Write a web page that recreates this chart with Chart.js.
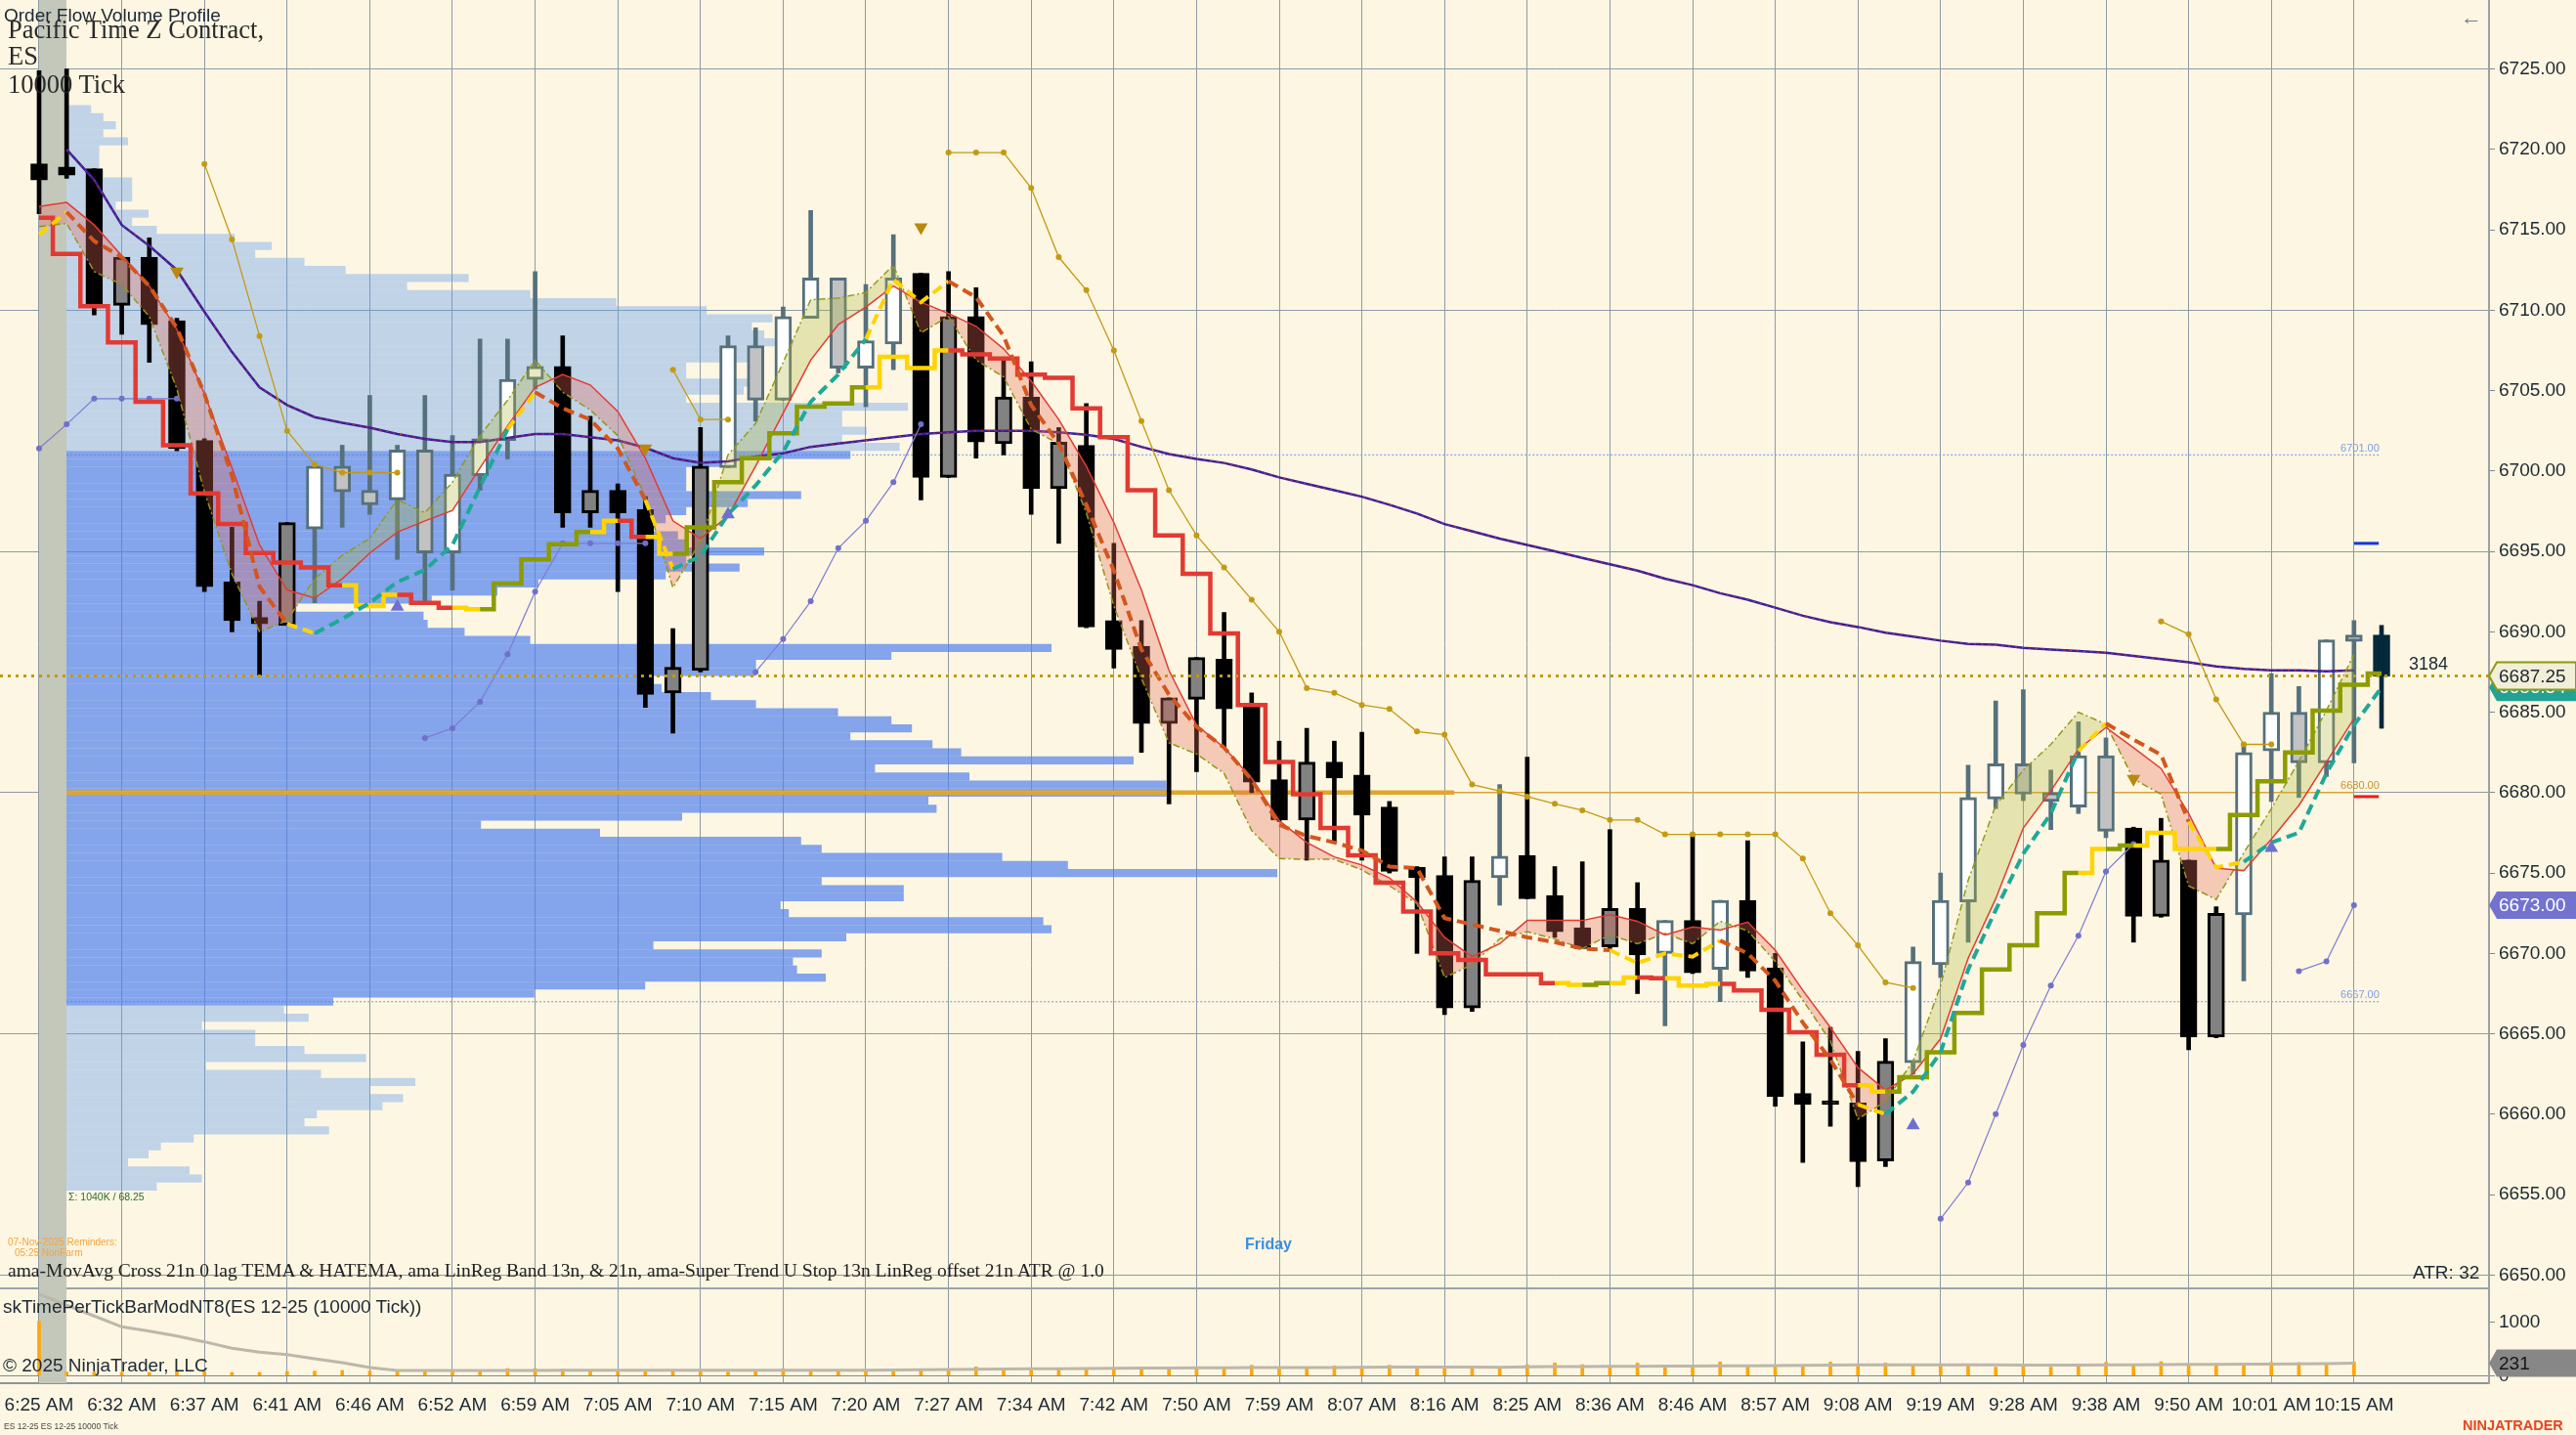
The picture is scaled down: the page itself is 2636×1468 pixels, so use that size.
<!DOCTYPE html>
<html>
<head>
<meta charset="utf-8">
<title>ES 12-25 10000 Tick</title>
<script src="https://cdn.jsdelivr.net/npm/chart.js@4.4.1/dist/chart.umd.min.js"></script>
<style>
  html, body { margin: 0; padding: 0; background: #fdf6e2; }
  body { width: 2636px; height: 1468px; position: relative; overflow: hidden;
         font-family: "Liberation Sans", Arial, sans-serif; color: #1c2833; }
  canvas { position: absolute; left: 0; }
  #main { top: 0; }
  #lower { top: 1318px; }
  .t { position: absolute; white-space: nowrap; line-height: 1; }
  .serif { font-family: "Liberation Serif", "Times New Roman", serif; color: #2b2b2b; }
</style>
</head>
<body>
<canvas id="main" width="2636" height="1320"></canvas>
<canvas id="lower" width="2636" height="150"></canvas>

<div class="t" style="left:4px;top:6px;font-size:19px">Order Flow Volume Profile</div>
<div class="t serif" style="left:8px;top:17px;font-size:26.5px">Pacific Time Z Contract,</div>
<div class="t serif" style="left:8px;top:44px;font-size:26.5px">ES</div>
<div class="t serif" style="left:8px;top:73px;font-size:26.5px">10000 Tick</div>
<div class="t" style="left:2518px;top:7px;font-size:22px;color:#6c7c88">&larr;</div>
<div class="t" style="left:70px;top:1219px;font-size:10.5px;color:#2e6b2e">&Sigma;: 1040K / 68.25</div>
<div class="t" style="left:8px;top:1266px;font-size:10px;color:#f5a43a">07-Nov-2025 Reminders:</div>
<div class="t" style="left:15px;top:1277px;font-size:10px;color:#f5a43a">05:25 NonFarm</div>
<div class="t" style="left:1274px;top:1265px;font-size:16px;font-weight:bold;color:#3a8ee0">Friday</div>
<div class="t serif" style="left:8px;top:1290px;font-size:19.5px;color:#222">ama-MovAvg Cross 21n 0 lag TEMA &amp; HATEMA, ama LinReg Band 13n, &amp; 21n, ama-Super Trend U Stop 13n LinReg offset 21n ATR @ 1.0</div>
<div class="t" style="left:2469px;top:1292px;font-size:19px">ATR: 32</div>
<div class="t" style="left:3px;top:1327px;font-size:19px">skTimePerTickBarModNT8(ES 12-25 (10000 Tick))</div>
<div class="t" style="left:3px;top:1387px;font-size:19px">&copy; 2025 NinjaTrader, LLC</div>
<div class="t" style="left:4px;top:1455px;font-size:8.5px;color:#444">ES 12-25 ES 12-25 10000 Tick</div>
<div class="t" style="left:2520px;top:1451px;font-size:14.5px;font-weight:bold;color:#e8451e">NINJATRADER</div>

<script>
// ---- values ----
const timeLabels = ['6:25 AM', '6:32 AM', '6:37 AM', '6:41 AM', '6:46 AM', '6:52 AM', '6:59 AM', '7:05 AM',
  '7:10 AM', '7:15 AM', '7:20 AM', '7:27 AM', '7:34 AM', '7:42 AM', '7:50 AM', '7:59 AM', '8:07 AM',
  '8:16 AM', '8:25 AM', '8:36 AM', '8:46 AM', '8:57 AM', '9:08 AM', '9:19 AM', '9:28 AM', '9:38 AM',
  '9:50 AM', '10:01 AM', '10:15 AM'];
const labelEvery = 3; // one time label every 3 bars

const opens = [6719.1, 6718.9, 6718.8, 6710.3, 6713.3, 6709.35, 6701.9, 6693.1, 6690.9, 6690.4,
  6696.4, 6700.3, 6698.8, 6698.2, 6701.3, 6694.9, 6699.7, 6701.9, 6705.7, 6706.5,
  6697.4, 6698.8, 6697.6, 6686.2, 6687.6, 6700.2, 6707.8, 6704.4, 6709.5, 6712.0,
  6706.4, 6707.9, 6712.3, 6699.6, 6709.6, 6701.7, 6704.6, 6698.9, 6701.6, 6690.7,
  6689.1, 6684.3, 6685.8, 6688.3, 6685.4, 6680.8, 6678.3, 6681.9, 6681.1, 6679.1,
  6675.35, 6674.85, 6666.6, 6674.7, 6676.1, 6673.6, 6671.6, 6670.4, 6672.8, 6670.0,
  6672.05, 6669.0, 6673.3, 6669.1, 6661.3, 6660.8, 6660.7, 6657.1, 6663.2, 6669.3,
  6673.2, 6679.6, 6681.8, 6680.0, 6679.1, 6682.3, 6677.8, 6672.3, 6675.8, 6664.8,
  6672.4, 6682.6, 6685.0, 6681.85, 6689.8, 6689.8];
const highs = [6724.9, 6725.0, 6718.8, 6713.3, 6714.5, 6709.5, 6702.0, 6696.5, 6691.9, 6696.8,
  6700.3, 6701.6, 6704.7, 6701.6, 6704.7, 6702.2, 6708.2, 6708.2, 6712.4, 6708.4,
  6703.4, 6699.2, 6698.4, 6690.2, 6702.7, 6708.4, 6708.9, 6710.2, 6716.2, 6712.0,
  6711.6, 6714.7, 6712.3, 6712.4, 6711.4, 6706.9, 6706.8, 6702.7, 6704.2, 6695.5,
  6690.7, 6685.9, 6688.4, 6691.2, 6686.2, 6683.2, 6684.0, 6683.2, 6683.75, 6679.45,
  6675.4, 6676.0, 6676.0, 6680.5, 6682.2, 6675.4, 6675.7, 6677.7, 6674.4, 6672.05,
  6677.4, 6673.3, 6677.0, 6670.0, 6664.5, 6665.4, 6663.9, 6664.7, 6670.4, 6675.0,
  6681.7, 6685.7, 6686.4, 6681.4, 6684.4, 6683.4, 6677.85, 6678.4, 6675.8, 6672.9,
  6683.1, 6687.4, 6686.6, 6689.5, 6690.7, 6690.4];
const lows = [6716.0, 6718.2, 6709.7, 6708.5, 6706.75, 6701.25, 6692.5, 6690.0, 6687.3, 6690.4,
  6691.8, 6696.5, 6697.3, 6694.5, 6691.9, 6692.6, 6698.8, 6700.75, 6705.1, 6696.5,
  6696.5, 6692.5, 6685.3, 6683.7, 6687.5, 6700.2, 6703.1, 6704.4, 6709.5, 6706.1,
  6704.0, 6706.3, 6698.2, 6699.6, 6700.8, 6701.0, 6697.3, 6695.5, 6690.25, 6687.75,
  6682.5, 6679.3, 6681.3, 6682.8, 6680.0, 6678.2, 6675.8, 6676.9, 6675.8, 6675.0,
  6670.0, 6666.2, 6666.4, 6673.0, 6673.4, 6671.0, 6670.3, 6670.3, 6667.5, 6665.5,
  6668.75, 6667.0, 6668.5, 6660.5, 6657.0, 6659.25, 6655.5, 6656.75, 6662.5, 6668.5,
  6670.7, 6679.0, 6679.5, 6677.7, 6678.7, 6677.2, 6670.7, 6672.25, 6664.0, 6664.75,
  6668.3, 6679.45, 6679.7, 6681.0, 6681.85, 6684.0];
const closes = [6718.1, 6718.4, 6710.3, 6713.3, 6709.1, 6701.4, 6692.8, 6690.7, 6690.5, 6696.8,
  6700.3, 6698.7, 6697.9, 6701.3, 6694.9, 6699.8, 6702.0, 6705.7, 6706.5, 6697.4,
  6698.8, 6697.4, 6686.1, 6687.8, 6700.3, 6707.8, 6704.4, 6709.6, 6712.0, 6706.4,
  6708.1, 6712.0, 6699.6, 6709.6, 6701.8, 6704.6, 6698.9, 6701.8, 6690.3, 6688.9,
  6684.3, 6685.9, 6688.4, 6685.2, 6680.65, 6678.3, 6681.9, 6680.9, 6678.6, 6675.1,
  6674.7, 6666.6, 6674.55, 6676.05, 6673.4, 6671.35, 6670.3, 6672.8, 6669.9, 6672.05,
  6668.8, 6673.3, 6668.9, 6661.1, 6660.6, 6660.6, 6657.05, 6663.3, 6669.5, 6673.3,
  6679.7, 6681.8, 6679.9, 6679.45, 6682.3, 6677.6, 6672.3, 6675.8, 6664.8, 6672.5,
  6682.5, 6685.0, 6681.85, 6689.5, 6689.4, 6687.25];
// bar colouring state (1 = up trend, -1 = down trend)
const trend = [-1, -1, -1, -1, -1, -1, -1, -1, -1, -1,
  1, 1, 1, 1, 1, 1, 1, 1, 1, -1,
  -1, -1, -1, -1, -1, 1, 1, 1, 1, 1,
  1, 1, -1, -1, -1, -1, -1, -1, -1, -1,
  -1, -1, -1, -1, -1, -1, -1, -1, -1, -1,
  -1, -1, -1, 1, -1, -1, -1, -1, -1, 1,
  -1, 1, -1, -1, -1, -1, -1, -1, 1, 1,
  1, 1, 1, 1, 1, 1, -1, -1, -1, -1,
  1, 1, 1, 1, 1, 1];

// ama-MovAvg (slow)
const maLine = [null, 6720.0, 6718.1, 6715.3, 6714.0, 6712.5, 6709.9, 6707.4, 6705.2, 6704.1,
  6703.35, 6703.0, 6702.7, 6702.3, 6702.0, 6701.8, 6701.8, 6702.05, 6702.3, 6702.3,
  6702.1, 6701.9, 6701.45, 6700.8, 6700.5, 6700.6, 6700.9, 6701.1, 6701.5, 6701.7,
  6701.9, 6702.1, 6702.3, 6702.4, 6702.5, 6702.5, 6702.5, 6702.4, 6702.25, 6702.0,
  6701.5, 6701.05, 6700.75, 6700.5, 6700.1, 6699.6, 6699.2, 6698.8, 6698.4, 6697.9,
  6697.35, 6696.7, 6696.25, 6695.8, 6695.4, 6695.0, 6694.6, 6694.2, 6693.8, 6693.3,
  6692.9, 6692.4, 6692.0, 6691.5, 6691.0, 6690.6, 6690.3, 6689.95, 6689.7, 6689.45,
  6689.25, 6689.2, 6689.0, 6688.9, 6688.8, 6688.7, 6688.5, 6688.3, 6688.1, 6687.85,
  6687.7, 6687.6, 6687.6, 6687.55, 6687.6, null];

// Super Trend U stop (step line) and its state: R = short, Y = neutral, G = long
const stopLine = [6715.75, 6713.5, 6710.25, 6708.0, 6704.3, 6701.6, 6698.6, 6696.7, 6694.9, 6694.3,
  6694.0, 6692.9, 6691.6, 6692.3, 6691.8, 6691.5, 6691.4, 6693.0, 6694.5, 6695.45,
  6696.2, 6696.9, 6695.9, 6694.85, 6696.5, 6699.3, 6700.8, 6702.35, 6704.0, 6704.2,
  6705.2, 6707.1, 6706.4, 6707.5, 6707.25, 6707.0, 6706.0, 6705.8, 6703.9, 6702.1,
  6698.8, 6696.0, 6693.6, 6689.9, 6685.45, 6681.9, 6679.9, 6677.8, 6676.1, 6674.4,
  6672.6, 6670.0, 6669.6, 6668.7, 6668.7, 6668.15, 6668.05, 6668.15, 6668.5, 6668.45,
  6668.0, 6668.1, 6667.7, 6666.5, 6665.1, 6663.7, 6661.8, 6661.4, 6662.3, 6663.85,
  6666.3, 6669.0, 6670.5, 6672.5, 6675.0, 6676.5, 6676.7, 6677.5, 6676.5, 6676.5,
  6678.6, 6680.7, 6682.5, 6685.1, 6686.7, 6687.4];
const stopState = ['RRRRRRRRRR', 'RRYYRRYGGG', 'GYRYGGGGGG', 'GYYYRRRRRR', 'RRRRRRRRRR',
  'RRRRRRYGYR', 'YYRRRRRYGG', 'GGGGGYGYYY', 'GGGGGG'].join('').split('');

// TEMA cross line (dashed) and colour of the segment ending at each bar: O = falling, T = rising, Y = flat
const temaLine = [6714.7, 6716.1, 6714.3, 6713.3, 6711.5, 6708.9, 6704.8, 6699.7, 6692.8, 6690.5,
  6689.9, 6690.8, 6691.8, 6693.1, 6693.85, 6695.4, 6699.0, 6702.6, 6704.9, 6703.9,
  6703.2, 6701.4, 6698.2, 6693.9, 6694.7, 6697.3, 6699.1, 6701.2, 6704.3, 6706.0,
  6708.2, 6711.9, 6710.5, 6711.8, 6710.8, 6708.4, 6704.1, 6701.7, 6697.9, 6693.8,
  6688.9, 6686.1, 6684.1, 6682.8, 6680.8, 6678.0, 6677.3, 6676.9, 6676.4, 6675.4,
  6675.3, 6672.2, 6671.8, 6671.4, 6671.0, 6670.7, 6670.3, 6670.2, 6669.4, 6670.0,
  6669.8, 6670.8, 6670.0, 6668.3, 6665.7, 6663.4, 6660.6, 6660.0, 6661.4, 6663.85,
  6669.0, 6672.7, 6676.2, 6678.7, 6682.6, 6684.3, 6683.3, 6682.35, 6678.2, 6675.35,
  6675.7, 6676.9, 6677.5, 6681.2, 6684.2, 6686.54];
const temaState = ['-YOOOOOOOO', 'YTTTTTTTYO', 'OOOYTTTTTT', 'TYYYOOOOOO', 'OOOOOOOOOO',
  'OOOOOOOOYY', 'YYOOOOOYTT', 'TTTTTYOOOY', 'YTTTTT'].join('').split('');

// LinReg band 13n (red) and 21n (olive)
const linReg13 = [6716.45, 6716.7, 6715.3, 6713.4, 6711.5, 6708.8, 6704.8, 6700.2, 6695.4, 6692.6,
  6692.1, 6693.3, 6694.9, 6696.2, 6696.9, 6697.55, 6700.2, 6702.8, 6705.2, 6706.0,
  6705.35, 6703.7, 6700.8, 6696.9, 6695.8, 6697.2, 6700.3, 6703.6, 6706.9, 6709.1,
  6710.2, 6711.5, 6710.5, 6709.8, 6709.0, 6707.6, 6705.6, 6703.2, 6700.3, 6696.8,
  6692.6, 6687.6, 6684.2, 6682.8, 6680.9, 6678.25, 6676.9, 6676.0, 6675.5, 6674.7,
  6673.2, 6671.0, 6669.8, 6670.6, 6672.05, 6672.05, 6672.05, 6672.4, 6672.0, 6671.15,
  6671.65, 6671.45, 6671.95, 6670.2, 6667.7, 6665.4, 6662.9, 6661.5, 6662.5, 6664.7,
  6669.7, 6673.4, 6677.8, 6680.1, 6682.7, 6684.05, 6682.8, 6681.5, 6678.7, 6675.3,
  6675.15, 6677.1, 6679.2, 6681.9, 6684.6, null];
const linReg21 = [6715.2, 6715.4, 6712.4, 6711.6, 6709.6, 6705.1, 6698.7, 6693.6, 6690.0, 6690.7,
  6693.3, 6694.75, 6695.8, 6698.2, 6697.4, 6699.3, 6702.2, 6704.4, 6706.9, 6704.9,
  6703.8, 6702.2, 6698.4, 6692.75, 6695.6, 6701.0, 6702.95, 6706.75, 6710.65, 6710.75,
  6711.1, 6712.8, 6708.6, 6709.6, 6706.9, 6705.85, 6702.6, 6701.7, 6697.4, 6691.6,
  6687.1, 6683.1, 6682.4, 6681.2, 6677.65, 6675.9, 6675.85, 6675.85, 6675.2, 6674.2,
  6673.1, 6668.5, 6669.3, 6670.9, 6671.35, 6670.9, 6670.3, 6671.15, 6670.6, 6671.25,
  6670.6, 6672.0, 6671.4, 6669.5, 6667.1, 6664.55, 6659.7, 6660.8, 6663.3, 6668.0,
  6674.55, 6679.2, 6681.4, 6683.0, 6685.0, 6684.25, 6680.85, 6679.9, 6674.2, 6673.35,
  6676.25, 6679.0, 6681.95, 6685.1, 6688.6, null];

// trailing stops with dots (gold = short side, blue = long side)
const goldStop = [null, null, null, null, null, null, 6719.1, 6714.4, 6708.4, 6702.5,
  6700.4, 6699.9, 6699.9, 6699.9, null, null, null, null, null, null,
  null, null, null, 6706.3, 6703.2, 6703.2, null, null, null, null,
  null, null, null, 6719.8, 6719.8, 6719.8, 6717.6, 6713.3, 6711.25, 6707.5,
  6703.1, 6698.8, 6696.0, 6694.0, 6692.0, 6690.0, 6686.5, 6686.2, 6685.45, 6685.2,
  6683.8, 6683.6, 6680.5, 6680.1, 6679.75, 6679.3, 6678.9, 6678.3, 6678.3, 6677.4,
  6677.4, 6677.4, 6677.4, 6677.4, 6675.9, 6672.5, 6670.5, 6668.2, 6667.85, null,
  null, null, null, null, null, null, null, 6690.65, 6689.85, 6685.8,
  6683.0, 6683.0, null, null, null, null];
const blueStop = [6701.4, 6702.9, 6704.5, 6704.5, 6704.5, 6704.5, null, null, null, null,
  null, null, null, null, 6683.4, 6684.0, 6685.65, 6688.6, 6692.5, 6695.5,
  6695.5, 6695.5, 6695.5, null, null, null, 6687.5, 6689.55, 6691.9, 6695.2,
  6696.9, 6699.3, 6702.9, null, null, null, null, null, null, null,
  null, null, null, null, null, null, null, null, null, null,
  null, null, null, null, null, null, null, null, null, null,
  null, null, null, null, null, null, null, null, null, 6653.5,
  6655.75, 6660.0, 6664.3, 6668.0, 6671.1, 6675.1, 6676.8, null, null, null,
  null, null, 6668.9, 6669.5, 6673.0, null];

// signal triangles
const sellBars = [5, 22, 32, 76];
const sellPrices = [6712.4, 6701.4, 6715.15, 6680.85];
const buyBars = [13, 25, 68, 81];
const buyPrices = [6691.55, 6697.3, 6659.3, 6676.55];

// order flow volume profile (K contracts per half point)
const profilePrices = [
  6722.5, 6722.0, 6721.5, 6721.0, 6720.5, 6720.0, 6719.5, 6719.0, 6718.5, 6718.0,
  6717.5, 6717.0, 6716.5, 6716.0, 6715.5, 6715.0, 6714.5, 6714.0, 6713.5, 6713.0,
  6712.5, 6712.0, 6711.5, 6711.0, 6710.5, 6710.0, 6709.5, 6709.0, 6708.5, 6708.0,
  6707.5, 6707.0, 6706.5, 6706.0, 6705.5, 6705.0, 6704.5, 6704.0, 6703.5, 6703.0,
  6702.5, 6702.0, 6701.5, 6701.0, 6700.5, 6700.0, 6699.5, 6699.0, 6698.5, 6698.0,
  6697.5, 6697.0, 6696.5, 6696.0, 6695.5, 6695.0, 6694.5, 6694.0, 6693.5, 6693.0,
  6692.5, 6692.0, 6691.5, 6691.0, 6690.5, 6690.0, 6689.5, 6689.0, 6688.5, 6688.0,
  6687.5, 6687.0, 6686.5, 6686.0, 6685.5, 6685.0, 6684.5, 6684.0, 6683.5, 6683.0,
  6682.5, 6682.0, 6681.5, 6681.0, 6680.5, 6680.0, 6679.5, 6679.0, 6678.5, 6678.0,
  6677.5, 6677.0, 6676.5, 6676.0, 6675.5, 6675.0, 6674.5, 6674.0, 6673.5, 6673.0,
  6672.5, 6672.0, 6671.5, 6671.0, 6670.5, 6670.0, 6669.5, 6669.0, 6668.5, 6668.0,
  6667.5, 6667.0, 6666.5, 6666.0, 6665.5, 6665.0, 6664.5, 6664.0, 6663.5, 6663.0,
  6662.5, 6662.0, 6661.5, 6661.0, 6660.5, 6660.0, 6659.5, 6659.0, 6658.5, 6658.0,
  6657.5, 6657.0, 6656.5, 6656.0, 6655.5];
const profileVol = [
  0.3, 0.45, 0.6, 0.45, 0.75, 0.4, 0.4, 0.4, 0.45, 0.8,
  0.8, 0.8, 0.6, 1.0, 0.8, 1.1, 2.05, 2.5, 2.3, 2.9,
  3.4, 4.9, 4.15, 5.65, 6.7, 7.8, 8.6, 8.35, 8.5, 8.85,
  8.3, 8.3, 7.55, 7.55, 8.3, 8.25, 7.55, 10.25, 9.45, 9.45,
  9.75, 9.45, 10.15, 9.55, 8.05, 7.55, 7.55, 7.55, 8.95, 8.3,
  7.55, 7.3, 7.1, 7.45, 7.55, 8.5, 7.55, 8.2, 7.3, 5.75,
  5.25, 4.45, 2.8, 4.35, 4.4, 4.85, 5.65, 12.0, 10.05, 8.4,
  8.4, 7.05, 7.25, 7.85, 8.4, 9.4, 10.05, 10.3, 9.55, 10.55,
  10.9, 13.0, 9.85, 11.0, 13.4, 13.4, 10.5, 10.6, 7.5, 5.05,
  6.5, 8.95, 9.2, 11.4, 12.2, 14.75, 9.2, 10.2, 10.2, 8.7,
  8.8, 11.9, 12.0, 9.5, 7.15, 9.2, 8.85, 8.9, 9.25, 7.05,
  5.7, 3.25, 2.65, 2.95, 1.65, 2.3, 2.3, 2.9, 3.65, 1.7,
  3.1, 4.25, 3.7, 4.1, 3.85, 3.05, 2.9, 3.2, 1.55, 1.15,
  1.0, 0.75, 1.5, 1.65, 1.1];
const vah = 6701.00;
const val = 6667.00;
const poc = 6680.00;
const pocEndBar = 51.35;

const lastPrice = 6687.25;
const lastVolume = 3184;
const markRed = 6679.75;
const markBlue = 6695.5;

// skTimePerTickBar panel
const timePerBar = [1011, 70, 66, 60, 60, 84, 72, 60, 60, 78,
  84, 97, 84, 103, 103, 91, 91, 133, 133, 121,
  103, 103, 103, 103, 91, 66, 103, 133, 103, 103,
  103, 115, 115, 103, 164, 133, 103, 133, 133, 133,
  164, 133, 133, 145, 194, 145, 145, 182, 176, 194,
  139, 176, 139, 145, 206, 236, 206, 182, 236, 182,
  176, 254, 194, 176, 176, 254, 206, 236, 182, 218,
  176, 158, 188, 158, 194, 248, 200, 260, 218, 224,
  188, 248, 242, 236, 254, null];
const timePerBarAvg = [1515, 1310, 1110, 909, 830, 739, 630, 509, 436, 393,
  315, 242, 151, 96, 96, 96, 97, 98, 98, 99,
  99, 99, 100, 100, 100, 100, 100, 101, 101, 102,
  103, 106, 110, 114, 118, 122, 126, 130, 134, 138,
  142, 144, 146, 148, 150, 151, 152, 153, 155, 158,
  160, 160, 158, 157, 163, 168, 170, 172, 174, 176,
  178, 182, 185, 188, 192, 196, 200, 202, 203, 203,
  202, 200, 198, 197, 198, 200, 203, 207, 210, 212,
  214, 216, 218, 224, 231, null];

// ---- axis ranges ----
const X_MIN = -1.418;
const X_MAX = 88.9;
const Y_MIN = 6649.17;
const Y_MAX = 6729.29;
const PROFILE_PX_PER_K = 84;
const PROFILE_LEFT_PX = 68;
const AXIS_W = 89;
const LY_MIN = -140;
const LY_MAX = 1624;

Chart.defaults.font.family = '"Liberation Sans", Arial, sans-serif';
Chart.defaults.color = '#1c2833';

const gridCol = '#8d9ba6';
const stopColors = { R: '#e23a32', Y: '#ffd400', G: '#8c9c00' };
const temaColors = { O: '#d4561e', T: '#1fa898', Y: '#ffd200', '-': '#ffd200' };

const toPts = arr => arr.map((v, i) => ({ x: i, y: v }));
const lastOf = arr => { for (let i = arr.length - 1; i >= 0; i--) if (arr[i] !== null) return arr[i]; return null; };

function bodyFill(i) {
  if (i === closes.length - 1) return '#03283a';
  const up = closes[i] >= opens[i];
  if (trend[i] > 0) return up ? '#ffffff' : '#c2c2c2';
  return up ? '#828282' : '#000000';
}
function edgeColor(i) {
  if (i === closes.length - 1) return '#03283a';
  return trend[i] > 0 ? '#56707c' : '#000000';
}

function drawTag(ctx, xLeft, xRight, yMid, text, fill, stroke, textColor) {
  const h = 28, tip = 8;
  ctx.beginPath();
  ctx.moveTo(xLeft, yMid);
  ctx.lineTo(xLeft + tip, yMid - h / 2);
  ctx.lineTo(xRight, yMid - h / 2);
  ctx.lineTo(xRight, yMid + h / 2);
  ctx.lineTo(xLeft + tip, yMid + h / 2);
  ctx.closePath();
  ctx.fillStyle = fill;
  ctx.fill();
  if (stroke) {
    ctx.strokeStyle = stroke;
    ctx.lineWidth = 2;
    ctx.stroke();
  }
  ctx.fillStyle = textColor;
  ctx.font = '19px "Liberation Sans"';
  ctx.textAlign = 'left';
  ctx.textBaseline = 'middle';
  ctx.fillText(text, xLeft + 10, yMid + 1);
}

// labels on the price axis and level captions
const priceTags = {
  id: 'priceTags',
  afterDraw(chart) {
    const { ctx, chartArea } = chart;
    const x = chart.scales.x, y = chart.scales.y;
    ctx.save();
    ctx.font = '11px "Liberation Sans"';
    ctx.textAlign = 'right';
    ctx.textBaseline = 'bottom';
    const capX = x.getPixelForValue(84) + 26;
    [[vah, '#7d9de6'], [poc, '#c8902c'], [val, '#7d9de6']].forEach(([v, col]) => {
      ctx.fillStyle = col;
      ctx.fillText(v.toFixed(2), capX, y.getPixelForValue(v) - 1);
    });
    ctx.font = '18px "Liberation Sans"';
    ctx.textAlign = 'left';
    ctx.fillStyle = '#1c2833';
    ctx.fillText(String(lastVolume), x.getPixelForValue(closes.length - 1) + 28, y.getPixelForValue(lastPrice) - 3);

    const temaLast = lastOf(temaLine);
    const blueLast = lastOf(blueStop);
    drawTag(ctx, chartArea.right, chart.width, y.getPixelForValue(temaLast), temaLast.toFixed(2), '#22a294', null, '#ffffff');
    drawTag(ctx, chartArea.right, chart.width, y.getPixelForValue(lastPrice), lastPrice.toFixed(2), '#f2eed8', '#8a9a10', '#1c2833');
    drawTag(ctx, chartArea.right, chart.width, y.getPixelForValue(blueLast), blueLast.toFixed(2), '#7373cf', null, '#ffffff');
    ctx.restore();
  }
};

const lowerTags = {
  id: 'lowerTags',
  afterDraw(chart) {
    const { ctx, chartArea } = chart;
    const v = lastOf(timePerBarAvg);
    ctx.save();
    drawTag(ctx, chartArea.right, chart.width, chart.scales.y.getPixelForValue(v), String(v), '#878787', null, '#161616');
    ctx.restore();
  }
};

const xAxisBase = {
  type: 'linear',
  position: 'bottom',
  min: X_MIN,
  max: X_MAX,
  offset: false,
  afterBuildTicks: s => { s.ticks = timeLabels.map((_, k) => ({ value: k * labelEvery })); },
  grid: { color: gridCol, lineWidth: 1, drawTicks: false, offset: false }
};

// ==========================================
// main price panel
// ==========================================
const mainDatasets = [
  { // session break band
    type: 'line', data: [{ x: 0, y: Y_MAX }, { x: 1, y: Y_MAX }],
    borderWidth: 0, backgroundColor: '#c4c8bb', fill: 'start', order: 100
  },
  {
    type: 'line', data: [{ x: 1, y: vah }, { x: 84.9, y: vah }],
    borderColor: '#86a4ea', borderWidth: 1.2, borderDash: [2, 2], order: 95
  },
  {
    type: 'line', data: [{ x: 1, y: val }, { x: 84.9, y: val }],
    borderColor: '#86a4ea', borderWidth: 1.2, borderDash: [2, 2], order: 95
  },
  { // volume profile
    type: 'bar', indexAxis: 'y', xAxisID: 'xp', yAxisID: 'yp',
    data: profilePrices.map((p, k) => ({ x: profileVol[k], y: p })),
    backgroundColor: profilePrices.map(p => (p <= vah && p >= val) ? 'rgba(80,130,240,0.7)' : 'rgba(100,160,240,0.4)'),
    borderWidth: 0, barPercentage: 1, categoryPercentage: 1, grouped: false, inflateAmount: 0, order: 90
  },
  {
    type: 'line', data: [{ x: 1, y: poc }, { x: pocEndBar, y: poc }],
    borderColor: '#e0a62b', borderWidth: 4.5, order: 85
  },
  {
    type: 'line', data: [{ x: pocEndBar, y: poc }, { x: 84, y: poc }],
    borderColor: '#d9a53a', borderWidth: 1.5, order: 85
  },
  { // wicks
    type: 'bar', data: lows.map((l, i) => ({ x: i, y: [l, highs[i]] })),
    backgroundColor: lows.map((_, i) => edgeColor(i)),
    borderWidth: 0, barThickness: 4, grouped: false, order: 70
  },
  { // bodies
    type: 'bar', data: opens.map((o, i) => ({ x: i, y: [o, closes[i]] })),
    backgroundColor: opens.map((_, i) => bodyFill(i)),
    borderColor: opens.map((_, i) => edgeColor(i)),
    borderWidth: 3, borderSkipped: false, barThickness: 17, minBarLength: 4, grouped: false, order: 65
  },
  {
    type: 'line', data: toPts(maLine), borderColor: '#3b1f9a', borderWidth: 2.5, order: 45
  },
  {
    type: 'line', data: toPts(maLine), borderColor: '#e03030', borderWidth: 1, borderDash: [2, 5], order: 44
  },
  {
    type: 'line', data: toPts(goldStop), borderColor: '#c39a12', borderWidth: 1.3,
    pointRadius: 3, pointBackgroundColor: '#c39a12', pointBorderWidth: 0, order: 40
  },
  {
    type: 'line', data: toPts(blueStop), borderColor: '#7c7cd2', borderWidth: 1.2,
    pointRadius: 3, pointBackgroundColor: '#7070cc', pointBorderWidth: 0, order: 40
  },
  { // LinReg band, fill to the next dataset
    type: 'line', data: toPts(linReg13), borderColor: '#e23b31', borderWidth: 1.5,
    fill: { target: '+1', above: 'rgba(228,105,90,0.32)', below: 'rgba(176,182,58,0.30)' }, order: 35
  },
  {
    type: 'line', data: toPts(linReg21), borderColor: '#8c9a12', borderWidth: 1.5,
    borderDash: [7, 3, 2, 3], order: 35
  },
  {
    type: 'line', data: toPts(stopLine), stepped: 'middle', borderWidth: 4.5, borderColor: '#e23a32',
    borderJoinStyle: 'miter', segment: { borderColor: c => stopColors[stopState[c.p1DataIndex]] }, order: 30
  },
  {
    type: 'line', data: toPts(temaLine), borderWidth: 4, borderDash: [11, 6], borderColor: '#d4561e',
    segment: { borderColor: c => temaColors[temaState[c.p1DataIndex]] }, order: 25
  },
  {
    type: 'line', data: sellBars.map((b, k) => ({ x: b, y: sellPrices[k] })), showLine: false,
    pointStyle: 'triangle', pointRadius: 8, pointRotation: 180, pointBackgroundColor: '#b8890d',
    pointBorderWidth: 0, order: 20
  },
  {
    type: 'line', data: buyBars.map((b, k) => ({ x: b, y: buyPrices[k] })), showLine: false,
    pointStyle: 'triangle', pointRadius: 8, pointBackgroundColor: '#6f6fcf', pointBorderWidth: 0, order: 20
  },
  {
    type: 'line', data: [{ x: X_MIN, y: lastPrice }, { x: X_MAX, y: lastPrice }],
    borderColor: '#bf9a12', borderWidth: 3, borderDash: [3, 5], order: 15
  },
  {
    type: 'line', data: [{ x: 84, y: markRed }, { x: 84.9, y: markRed }],
    borderColor: '#ee1c1c', borderWidth: 3, order: 15
  },
  {
    type: 'line', data: [{ x: 84, y: markBlue }, { x: 84.9, y: markBlue }],
    borderColor: '#1636e0', borderWidth: 3, order: 15
  }
];

new Chart(document.getElementById('main'), {
  type: 'line',
  data: { datasets: mainDatasets },
  options: {
    responsive: false,
    animation: false,
    devicePixelRatio: 1,
    events: [],
    layout: { padding: 0, autoPadding: false },
    elements: { point: { radius: 0 }, line: { tension: 0 } },
    plugins: { legend: { display: false }, tooltip: { enabled: false } },
    scales: {
      x: {
        ...xAxisBase,
        ticks: { display: false },
        border: { display: true, color: '#9aa3a8', width: 2 },
        afterFit: s => { s.height = 2; s.paddingLeft = 0; s.paddingRight = 0; }
      },
      y: {
        type: 'linear',
        position: 'right',
        min: Y_MIN,
        max: Y_MAX,
        ticks: {
          stepSize: 5, includeBounds: false, padding: 4, color: '#1c2833',
          font: { size: 19 }, callback: v => v.toFixed(2)
        },
        grid: {
          color: c => (Math.round(c.tick.value - 6650) % 15 === 0 ? gridCol : 'rgba(0,0,0,0)'),
          tickColor: '#7b8891', tickLength: 6, lineWidth: 1
        },
        border: { display: true, color: '#9aa2a6', width: 2 },
        afterFit: s => { s.width = AXIS_W; s.paddingTop = 0; s.paddingBottom = 0; }
      },
      xp: {
        type: 'linear', display: false, offset: false,
        min: -PROFILE_LEFT_PX / PROFILE_PX_PER_K,
        max: (2636 - AXIS_W - PROFILE_LEFT_PX) / PROFILE_PX_PER_K
      },
      yp: { type: 'linear', display: false, offset: false, grid: { offset: false }, min: Y_MIN, max: Y_MAX }
    }
  },
  plugins: [priceTags]
});

// ==========================================
// lower panel: time per tick bar
// ==========================================
new Chart(document.getElementById('lower'), {
  type: 'line',
  data: {
    datasets: [
      {
        type: 'line', data: [{ x: 0, y: LY_MAX }, { x: 1, y: LY_MAX }],
        borderWidth: 0, backgroundColor: '#c4c8bb', fill: 'start', order: 100
      },
      {
        type: 'bar', data: toPts(timePerBar), backgroundColor: '#ffa60a',
        barThickness: 3, grouped: false, order: 30
      },
      {
        type: 'line', data: toPts(timePerBarAvg), borderColor: '#bdb7aa', borderWidth: 3, order: 20
      }
    ]
  },
  options: {
    responsive: false,
    animation: false,
    devicePixelRatio: 1,
    events: [],
    layout: { padding: 0, autoPadding: false },
    elements: { point: { radius: 0 }, line: { tension: 0 } },
    plugins: { legend: { display: false }, tooltip: { enabled: false } },
    scales: {
      x: {
        ...xAxisBase,
        ticks: {
          display: true, autoSkip: false, maxRotation: 0, minRotation: 0, padding: 11,
          color: '#1c2833', font: { size: 19 },
          callback: v => timeLabels[Math.round(v / labelEvery)]
        },
        border: { display: true, color: '#8a9499', width: 2 },
        afterFit: s => { s.height = 53; s.paddingLeft = 0; s.paddingRight = 0; }
      },
      y: {
        type: 'linear',
        position: 'right',
        min: LY_MIN,
        max: LY_MAX,
        afterBuildTicks: s => { s.ticks = [{ value: 0 }, { value: 1000 }]; },
        ticks: { padding: 4, color: '#1c2833', font: { size: 19 }, callback: v => String(v) },
        grid: {
          color: c => (c.tick.value === 0 ? '#7e8a93' : 'rgba(0,0,0,0)'),
          tickColor: '#7b8891', tickLength: 6
        },
        border: { display: true, color: '#9aa2a6', width: 2 },
        afterFit: s => { s.width = AXIS_W; s.paddingTop = 0; s.paddingBottom = 0; }
      }
    }
  },
  plugins: [lowerTags]
});
</script>
</body>
</html>
